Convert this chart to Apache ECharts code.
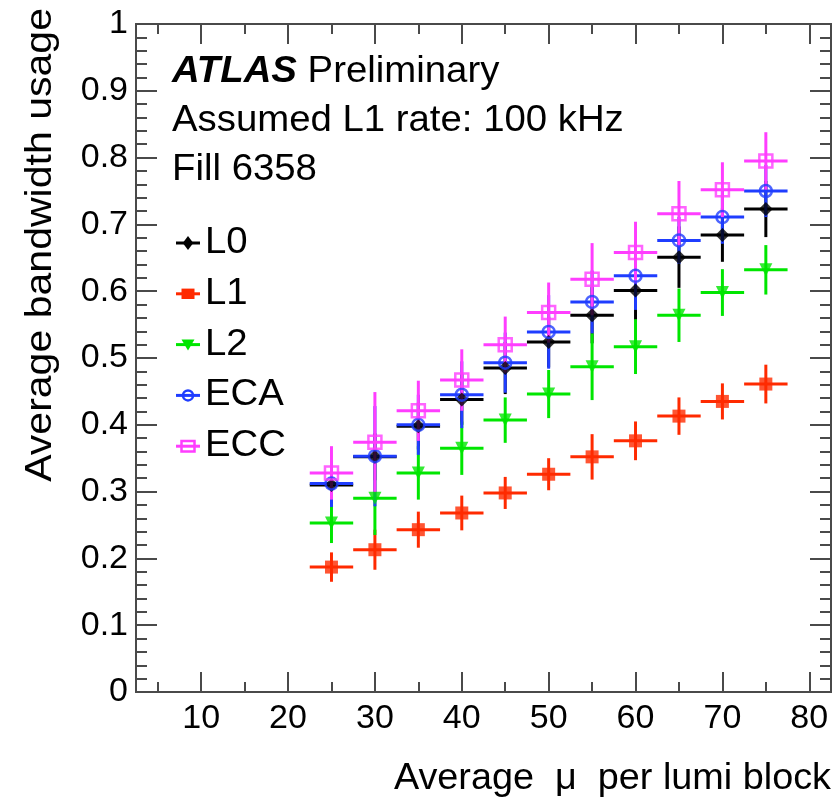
<!DOCTYPE html>
<html>
<head>
<meta charset="utf-8">
<script src="https://cdn.jsdelivr.net/npm/echarts@6/dist/echarts.min.js"></script>
<style>
  html, body { margin: 0; padding: 0; background: #fff; }
  #chart { width: 832px; height: 807px; }
</style>
</head>
<body>
<div id="chart"></div>
<script>
// Pile-up bins (bin centres) and half bin width used for the horizontal bars
const muBins = [25, 30, 35, 40, 45, 50, 55, 60, 65, 70, 75];
const binHalfWidth = 2.5;

// Average bandwidth usage per readout partition and its uncertainty
const l0Usage  = [0.310, 0.352, 0.398, 0.438, 0.485, 0.524, 0.564, 0.601, 0.651, 0.684, 0.723];
const l0Err    = [0.030, 0.035, 0.035, 0.038, 0.039, 0.038, 0.042, 0.044, 0.046, 0.040, 0.042];
const l1Usage  = [0.187, 0.213, 0.243, 0.268, 0.298, 0.326, 0.352, 0.376, 0.413, 0.435, 0.461];
const l1Err    = [0.022, 0.030, 0.027, 0.026, 0.024, 0.024, 0.034, 0.029, 0.028, 0.027, 0.029];
const l2Usage  = [0.253, 0.290, 0.328, 0.365, 0.407, 0.446, 0.487, 0.517, 0.564, 0.598, 0.632];
const l2Err    = [0.030, 0.055, 0.040, 0.040, 0.034, 0.036, 0.050, 0.041, 0.040, 0.035, 0.037];
const ecaUsage = [0.312, 0.353, 0.400, 0.445, 0.493, 0.539, 0.584, 0.623, 0.676, 0.711, 0.750];
const ecaErr   = [0.035, 0.075, 0.045, 0.050, 0.045, 0.055, 0.047, 0.051, 0.035, 0.040, 0.039];
const eccUsage = [0.328, 0.374, 0.421, 0.467, 0.520, 0.568, 0.618, 0.658, 0.716, 0.752, 0.795];
const eccErr   = [0.040, 0.075, 0.045, 0.046, 0.042, 0.045, 0.054, 0.046, 0.049, 0.041, 0.043];

// Axis tick values and labels
const xMajorTicks = [10, 20, 30, 40, 50, 60, 70, 80];
const xMinorTicks = [5, 15, 25, 35, 45, 55, 65, 75];
const xRange = [2.5, 82.5];
const yRange = [0, 1];
const yStep = 0.1;

const seriesNames = ['L0', 'L1', 'L2', 'ECA', 'ECC'];
const headerLines = ['Assumed L1 rate: 100 kHz', 'Fill 6358'];
const xTitle = 'Average  \u03bc  per lumi block';
const yTitle = 'Average bandwidth usage';

const FONT = '"Liberation Sans", Arial, Helvetica, sans-serif';
const AXIS_COLOR = '#4a4a4a';
const TEXT_STRETCH = 1.065;   // labels are set slightly wide

const markerStyle = {
  L0:  { color: '#000000', symbol: 'diamond',  size: 14, filled: true },
  L1:  { color: '#ff2a00', symbol: 'rect',     size: 13, filled: true },
  L2:  { color: '#00e600', symbol: 'triangle', size: 13, filled: true, rotate: 180 },
  ECA: { color: '#1f3dff', symbol: 'circle',   size: 12, filled: false },
  ECC: { color: '#ff3dff', symbol: 'rect',     size: 13, filled: false }
};

const seriesValues = {
  L0: [l0Usage, l0Err], L1: [l1Usage, l1Err], L2: [l2Usage, l2Err],
  ECA: [ecaUsage, ecaErr], ECC: [eccUsage, eccErr]
};

function errorBarSeries(name, values, errs, color) {
  return {
    type: 'custom',
    name: name + ' errors',
    data: muBins.map((m, i) => [m, values[i], errs[i]]),
    encode: { x: 0, y: 1 },
    silent: true,
    renderItem(params, api) {
      const x = api.value(0), y = api.value(1), e = api.value(2);
      const l = api.coord([x - binHalfWidth, y]);
      const r = api.coord([x + binHalfWidth, y]);
      const t = api.coord([x, y + e]);
      const b = api.coord([x, y - e]);
      return {
        type: 'group',
        children: [
          { type: 'line', shape: { x1: l[0], y1: l[1], x2: r[0], y2: r[1] }, style: { stroke: color, lineWidth: 3 } },
          { type: 'line', shape: { x1: t[0], y1: t[1], x2: b[0], y2: b[1] }, style: { stroke: color, lineWidth: 3 } }
        ]
      };
    }
  };
}

function markerSeries(name, values) {
  const s = markerStyle[name];
  return {
    type: 'scatter',
    name: name,
    data: muBins.map((m, i) => [m, values[i]]),
    symbol: s.symbol,
    symbolSize: s.size,
    symbolRotate: s.rotate || 0,
    silent: true,
    itemStyle: s.filled
      ? { color: s.color, borderWidth: 0 }
      : { color: 'rgba(0,0,0,0)', borderColor: s.color, borderWidth: 2.5 }
  };
}

const series = [];
seriesNames.forEach(n => {
  const [v, e] = seriesValues[n];
  series.push(errorBarSeries(n, v, e, markerStyle[n].color));
  series.push(markerSeries(n, v));
});

// Legend entries: error-bar stub with marker and label
function legendMarker(name, cx, cy) {
  const s = markerStyle[name];
  const h = s.size / 2;
  const fill = s.filled ? s.color : 'rgba(0,0,0,0)';
  const stroke = s.filled ? null : s.color;
  const st = { fill: fill, stroke: stroke, lineWidth: 2.5 };
  if (s.symbol === 'diamond') {
    return { type: 'polygon', shape: { points: [[cx - h * 0.75, cy], [cx, cy - h], [cx + h * 0.75, cy], [cx, cy + h]] }, style: st };
  }
  if (s.symbol === 'triangle') {
    return { type: 'polygon', shape: { points: [[cx - h, cy - h * 0.8], [cx + h, cy - h * 0.8], [cx, cy + h * 0.9]] }, style: st };
  }
  if (s.symbol === 'circle') {
    return { type: 'circle', shape: { cx: cx, cy: cy, r: h - 1 }, style: st };
  }
  return { type: 'rect', shape: { x: cx - h, y: cy - h * 0.8, width: 2 * h, height: 1.6 * h }, style: st };
}

const legendGraphics = seriesNames.map((n, i) => {
  const cy = 243 + i * 50.8;
  const c = markerStyle[n].color;
  return {
    type: 'group',
    children: [
      { type: 'line', shape: { x1: 176, y1: cy, x2: 200, y2: cy }, style: { stroke: c, lineWidth: 3 } },
      legendMarker(n, 188, cy),
      { type: 'text', x: 205, y: cy, scaleX: TEXT_STRETCH, style: { text: n, font: '36px ' + FONT, fill: '#000', textVerticalAlign: 'middle' } }
    ]
  };
});

const textGraphics = [
  {
    type: 'text', x: 172, y: 72, scaleX: TEXT_STRETCH,
    style: {
      text: '{b|ATLAS} Preliminary',
      rich: { b: { fontWeight: 'bold', fontStyle: 'italic', fontSize: 36, fontFamily: FONT, fill: '#000' } },
      fontSize: 36, fontFamily: FONT, fill: '#000', textVerticalAlign: 'middle'
    }
  },
  { type: 'text', x: 172, y: 121, scaleX: TEXT_STRETCH, style: { text: headerLines[0], font: '36px ' + FONT, fill: '#000', textVerticalAlign: 'middle' } },
  { type: 'text', x: 172, y: 170, scaleX: TEXT_STRETCH, style: { text: headerLines[1], font: '36px ' + FONT, fill: '#000', textVerticalAlign: 'middle' } },
  { type: 'text', x: 831, y: 779, scaleX: 1.05, style: { text: xTitle, font: '36px ' + FONT, fill: '#000', textAlign: 'right', textVerticalAlign: 'middle' } },
  { type: 'text', x: 41, y: 8, rotation: Math.PI / 2, scaleX: 1.14, style: { text: yTitle, font: '36px ' + FONT, fill: '#000', textAlign: 'right', textVerticalAlign: 'middle' } }
];

function xAxisDef(position, ticks, len, withLabels) {
  return {
    type: 'value', position: position, min: xRange[0], max: xRange[1],
    axisLine: { show: true, onZero: false, lineStyle: { color: AXIS_COLOR, width: 2 } },
    axisTick: { show: true, inside: true, length: len, customValues: ticks, lineStyle: { color: AXIS_COLOR, width: 2 } },
    axisLabel: withLabels
      ? { show: true, customValues: ticks, fontSize: 34, fontFamily: FONT, color: '#000', margin: 10 }
      : { show: false },
    splitLine: { show: false }
  };
}

function yAxisDef(position, withLabels) {
  return {
    type: 'value', position: position, min: yRange[0], max: yRange[1], interval: yStep,
    axisLine: { show: true, onZero: false, lineStyle: { color: AXIS_COLOR, width: 2 } },
    axisTick: { show: true, inside: true, length: 21, lineStyle: { color: AXIS_COLOR, width: 2 } },
    minorTick: { show: true, splitNumber: 5, length: 11, lineStyle: { color: AXIS_COLOR, width: 2 } },
    axisLabel: withLabels
      ? { show: true, fontSize: 34, fontFamily: FONT, color: '#000', margin: 8 }
      : { show: false },
    splitLine: { show: false },
    minorSplitLine: { show: false }
  };
}

const chart = echarts.init(document.getElementById('chart'), null, { renderer: 'canvas' });
chart.setOption({
  animation: false,
  backgroundColor: '#fff',
  grid: { left: 136, right: 1, top: 24, bottom: 115, containLabel: false },
  xAxis: [
    xAxisDef('bottom', xMajorTicks, 20, true),
    xAxisDef('top', xMajorTicks, 20, false),
    xAxisDef('bottom', xMinorTicks, 10, false),
    xAxisDef('top', xMinorTicks, 10, false)
  ],
  yAxis: [
    yAxisDef('left', true),
    yAxisDef('right', false)
  ],
  series: series,
  graphic: textGraphics.concat(legendGraphics)
});
</script>
</body>
</html>
